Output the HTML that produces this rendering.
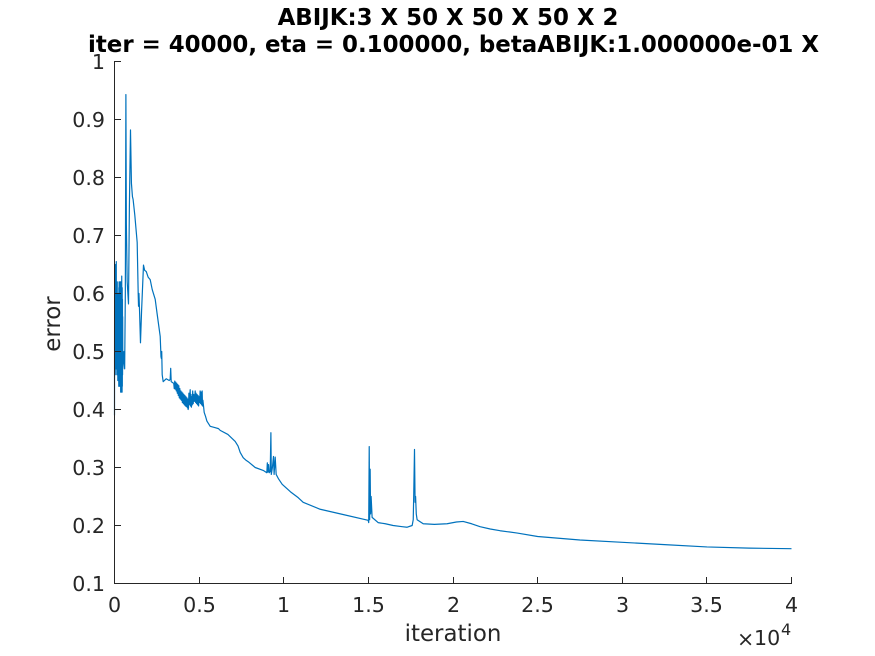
<!DOCTYPE html>
<html lang="en">
<head>
<meta charset="utf-8">
<title>ABIJK error chart</title>
<style>
html,body{margin:0;padding:0;background:#fff;width:875px;height:656px;overflow:hidden}
svg{display:block}
text{font-family:"DejaVu Sans","Liberation Sans",sans-serif;fill:#262626}
</style>
</head>
<body>
<svg id="chart" xmlns="http://www.w3.org/2000/svg" width="875" height="656" viewBox="0 0 875 656">
<rect width="875" height="656" fill="#fff"/>
<text x="448" y="25" text-anchor="middle" font-size="22.9" font-weight="bold" style="fill:#000">ABIJK:3 X 50 X 50 X 50 X 2</text>
<text x="453.5" y="52" text-anchor="middle" font-size="22.9" font-weight="bold" style="fill:#000">iter = 40000, eta = 0.100000, betaABIJK:1.000000e-01 X</text>
<g id="plot"></g>
<line x1="114.5" y1="62" x2="114.5" y2="584" stroke="#262626" stroke-width="1"/>
<line x1="114" y1="583.5" x2="791.5" y2="583.5" stroke="#262626" stroke-width="1"/>
<g id="ticks"></g>
<text x="453" y="641" text-anchor="middle" font-size="22.9">iteration</text>
<text transform="translate(60,324) rotate(-90)" text-anchor="middle" font-size="22.9">error</text>
<g>
<text x="737" y="646" font-size="20.6">×</text>
<text x="754" y="645" font-size="20.6">10</text>
<text x="781" y="635" font-size="16">4</text>
</g>
</svg>
<script>
const iterations = [
0,7,14,21,28,35,42,49,56,63,
70,77,84,91,98,105,112,119,126,133,
140,147,154,161,168,175,182,189,196,203,
210,217,224,231,238,245,252,259,266,273,
280,287,294,301,308,315,322,329,336,343,
350,357,364,371,378,385,392,399,406,413,
420,427,434,441,448,455,462,469,476,483,
490,
520,560,600,640,673,700,750,827,880,945,
1000,1060,1100,1200,1340,1400,1420,1445,1480,1535,
1600,1713,1780,1873,1991,2109,2227,2405,2523,2700,
2747,2770,2790,2818,2877,3054,3232,3290,3320,3350,
3500,
3530,3560,3590,3620,3650,3680,3710,3740,3770,3800,
3830,3860,3890,3920,3950,3982,4010,4040,4070,4100,
4130,4160,4190,4220,4250,4277,4305,4330,4350,4372,
4395,4420,4445,4472,4495,4520,4545,4570,4595,4620,
4650,4680,4720,4768,4795,4820,4850,4880,4910,4940,
4970,5000,5030,5060,5090,5120,5150,5180,5200,5223,
5260,5300,5380,5459,5654,5900,6144,
6245,6700,7131,7300,7427,7604,7750,7900,8313,8786,
9000,9030,9060,9100,9140,9200,9240,9265,9330,9394,
9430,9494,9553,9700,9908,10400,10853,11148,12153,13500,
14989,15020,15050,15075,15105,15130,15162,15221,15575,16000,
16462,17000,17292,17587,17650,17680,17725,17760,17790,17830,
17880,18240,18900,19650,20200,20600,21100,21600,22200,22780,
23800,25000,27500,30000,32500,35000,37500,40000
];
const errors = [
.39,.64,.47,.60,.49,.65,.46,.62,.50,.64,
.47,.58,.49,.63,.48,.655,.47,.60,.50,.62,
.46,.58,.47,.62,.49,.60,.46,.59,.45,.57,
.49,.60,.46,.58,.47,.60,.44,.61,.47,.62,
.45,.61,.48,.60,.44,.59,.46,.62,.44,.60,
.45,.62,.43,.61,.46,.60,.44,.62,.45,.60,
.43,.63,.44,.60,.43,.61,.44,.59,.46,.56,
.47,
.48,.50,.47,.60,.943,.72,.62,.582,.75,.882,
.79,.767,.762,.735,.688,.60,.578,.60,.57,.515,
.57,.649,.64,.638,.628,.624,.607,.590,.564,.526,
.491,.488,.50,.460,.448,.453,.450,.452,.471,.448,
.445,
.436,.449,.435,.447,.432,.445,.428,.443,.424,.441,
.420,.436,.418,.432,.416,.430,.412,.428,.410,.426,
.408,.424,.406,.422,.405,.420,.403,.418,.400,.403,
.428,.408,.424,.434,.406,.426,.404,.422,.408,.432,
.410,.426,.414,.432,.412,.428,.410,.426,.408,.424,
.406,.422,.412,.432,.410,.430,.408,.432,.406,.416,
.406,.395,.388,.380,.371,.369,.367,
.364,.357,.345,.337,.326,.317,.313,.310,.300,.295,
.291,.308,.292,.305,.291,.293,.36,.288,.30,.319,
.288,.318,.288,.280,.271,.258,.248,.240,.228,.219,
.209,.205,.336,.21,.297,.22,.25,.214,.205,.203,
.200,.198,.197,.200,.210,.253,.331,.24,.25,.22,
.21,.203,.202,.203,.206,.207,.203,.198,.194,.191,
.187,.181,.175,.171,.167,.163,.161,.160
];
const xTickValues = [0,5000,10000,15000,20000,25000,30000,35000,40000];
const xTickLabels = ["0","0.5","1","1.5","2","2.5","3","3.5","4"];
const yTickValues = [0.1,0.2,0.3,0.4,0.5,0.6,0.7,0.8,0.9,1];
const yTickLabels = ["0.1","0.2","0.3","0.4","0.5","0.6","0.7","0.8","0.9","1"];

const NS = "http://www.w3.org/2000/svg";
function xScale(v){ return 114.5 + (v / 40000) * 677; }
function yScale(v){ return 583.5 - ((v - 0.1) / 0.9) * 522; }

const plot = document.getElementById("plot");
const ticks = document.getElementById("ticks");

const line = document.createElementNS(NS, "polyline");


line.setAttribute("fill", "none");
line.setAttribute("stroke", "#0072BD");
line.setAttribute("stroke-width", "1.2");
line.setAttribute("stroke-linejoin", "round");
line.setAttribute("points", iterations.map((v, i) => xScale(v).toFixed(2) + "," + yScale(errors[i]).toFixed(2)).join(" "));
plot.appendChild(line);

xTickValues.forEach((v, i) => {
  const x = Math.round(xScale(v) - 0.5) + 0.5;
  const t = document.createElementNS(NS, "line");
  
  
  t.setAttribute("x1", x);
  t.setAttribute("x2", x);
  t.setAttribute("y1", 584);
  t.setAttribute("y2", 577);
  t.setAttribute("stroke", "#262626");
  ticks.appendChild(t);
  const l = document.createElementNS(NS, "text");
  
  
  l.setAttribute("x", x);
  l.setAttribute("y", 612);
  l.setAttribute("text-anchor", "middle");
  l.setAttribute("font-size", "20.6");
  l.textContent = xTickLabels[i];
  ticks.appendChild(l);
});

yTickValues.forEach((v, i) => {
  const y = Math.round(yScale(v) - 0.5) + 0.5;
  const t = document.createElementNS(NS, "line");
  
  
  t.setAttribute("x1", 114);
  t.setAttribute("x2", 121);
  t.setAttribute("y1", y);
  t.setAttribute("y2", y);
  t.setAttribute("stroke", "#262626");
  ticks.appendChild(t);
  const l = document.createElementNS(NS, "text");
  
  
  l.setAttribute("x", 105);
  l.setAttribute("y", y + 7.5);
  l.setAttribute("text-anchor", "end");
  l.setAttribute("font-size", "20.6");
  l.textContent = yTickLabels[i];
  ticks.appendChild(l);
});
</script>
</body>
</html>
